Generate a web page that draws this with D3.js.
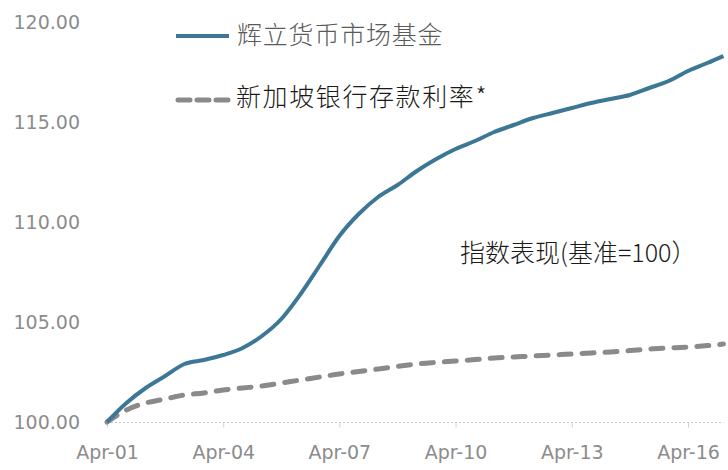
<!DOCTYPE html>
<html>
<head>
<meta charset="utf-8">
<script src="https://cdn.jsdelivr.net/npm/d3@7"></script>
<style>
  body { margin: 0; background: #fff; }
  svg { display: block; }
</style>
</head>
<body>
<svg id="chart" width="728" height="470"></svg>
<script>
// semi-annual readings (index, base 100 at Apr-01)
var dates = ["2001-04","2001-10","2002-04","2002-10","2003-04","2003-10","2004-04","2004-10",
  "2005-04","2005-10","2006-04","2006-10","2007-04","2007-10","2008-04","2008-10",
  "2009-04","2009-10","2010-04","2010-10","2011-04","2011-10","2012-04","2012-10",
  "2013-04","2013-10","2014-04","2014-10","2015-04","2015-10","2016-04","2016-10","2017-03"];

var fundValues = [100.00,100.95,101.70,102.30,102.90,103.10,103.35,103.70,
  104.30,105.15,106.40,107.85,109.30,110.40,111.25,111.85,
  112.55,113.15,113.65,114.05,114.50,114.85,115.20,115.45,
  115.70,115.95,116.15,116.35,116.70,117.05,117.55,117.95,118.30];

var depositValues = [100.00,100.60,100.95,101.15,101.35,101.45,101.60,101.70,
  101.80,101.95,102.10,102.25,102.40,102.52,102.65,102.78,
  102.90,102.98,103.05,103.12,103.20,103.25,103.30,103.35,
  103.40,103.45,103.50,103.57,103.65,103.70,103.75,103.82,103.90];

var xTickLabels = ["Apr-01","Apr-04","Apr-07","Apr-10","Apr-13","Apr-16"];
var yTicks = [100, 105, 110, 115, 120];

var seriesNames = ["辉立货币市场基金", "新加坡银行存款利率*"];
var noteText = "指数表现(基准=100）";

var parseMonth = d3.timeParse("%Y-%m");
var parseTick = d3.timeParse("%b-%y");

var svg = d3.select("#chart");

var x = d3.scaleTime()
  .domain([parseMonth("2001-04"), parseMonth("2016-04")])
  .range([107, 688]);
var y = d3.scaleLinear().domain([100, 120]).range([422, 22]);

var fundData = dates.map(function (d, i) { return {date: parseMonth(d), value: fundValues[i]}; });
var depData = dates.map(function (d, i) { return {date: parseMonth(d), value: depositValues[i]}; });

// x axis: dotted baseline + small ticks
svg.append("line")
  .attr("x1", x(fundData[0].date)).attr("x2", x(fundData[fundData.length - 1].date))
  .attr("y1", y(100) + 0.5).attr("y2", y(100) + 0.5)
  .attr("stroke", "#c8c8c8").attr("stroke-width", 1)
  .attr("stroke-dasharray", "2,2");

var xAxis = svg.append("g")
  .attr("transform", "translate(0," + (y(100) + 0.5) + ")")
  .call(d3.axisBottom(x)
    .tickValues(xTickLabels.map(function (t) { return parseTick(t); }))
    .tickFormat(d3.timeFormat("%b-%y"))
    .tickSize(5).tickSizeOuter(0).tickPadding(18));
xAxis.select(".domain").remove();
xAxis.selectAll(".tick line").attr("stroke", "#d0d0d0");
xAxis.selectAll(".tick text")
  .attr("fill", "#8c8c8c")
  .style("font-family", "'DejaVu Sans', Verdana, sans-serif")
  .style("font-size", "19px");

// y axis labels only
var yAxis = svg.append("g")
  .attr("transform", "translate(80,0)")
  .call(d3.axisLeft(y).tickValues(yTicks).tickFormat(d3.format(".2f")).tickSize(0).tickPadding(0));
yAxis.select(".domain").remove();
yAxis.selectAll(".tick text")
  .attr("fill", "#8c8c8c")
  .style("font-family", "'DejaVu Sans', Verdana, sans-serif")
  .style("font-size", "19px");

var line = d3.line()
  .x(function (d) { return x(d.date); })
  .y(function (d) { return y(d.value); })
  .curve(d3.curveMonotoneX);

svg.append("path")
  .datum(depData)
  .attr("d", line)
  .attr("fill", "none")
  .attr("stroke", "#8a8a8a")
  .attr("stroke-width", 5)
  .attr("stroke-linecap", "round")
  .attr("stroke-dasharray", "12,11");

svg.append("path")
  .datum(fundData)
  .attr("d", line)
  .attr("fill", "none")
  .attr("stroke", "#3c7896")
  .attr("stroke-width", 4)
  .attr("stroke-linejoin", "round");

// legend
var legend = svg.append("g");
legend.append("line")
  .attr("x1", 176).attr("x2", 229).attr("y1", 36).attr("y2", 36)
  .attr("stroke", "#3c7896").attr("stroke-width", 4);
legend.append("line")
  .attr("x1", 178).attr("x2", 230).attr("y1", 100).attr("y2", 100)
  .attr("stroke", "#8a8a8a").attr("stroke-width", 5)
  .attr("stroke-linecap", "round").attr("stroke-dasharray", "12,7");

legend.append("text")
  .attr("x", 237).attr("y", 44)
  .attr("fill", "#5a5a5a")
  .style("font-family", "'Noto Sans CJK SC', sans-serif")
  .style("font-weight", 300)
  .style("font-size", "25px")
  .style("letter-spacing", "0.8px")
  .text(seriesNames[0]);
legend.append("text")
  .attr("x", 236).attr("y", 106)
  .attr("fill", "#1a1a1a")
  .style("font-family", "'Noto Sans CJK SC', sans-serif")
  .style("font-weight", 300)
  .style("font-size", "25px")
  .style("letter-spacing", "1.6px")
  .text(seriesNames[1]);

svg.append("text")
  .attr("x", 460).attr("y", 262)
  .attr("fill", "#1a1a1a")
  .style("font-family", "'Noto Sans CJK SC', sans-serif")
  .style("font-weight", 300)
  .style("font-size", "25px")
  .text(noteText);
</script>
</body>
</html>
